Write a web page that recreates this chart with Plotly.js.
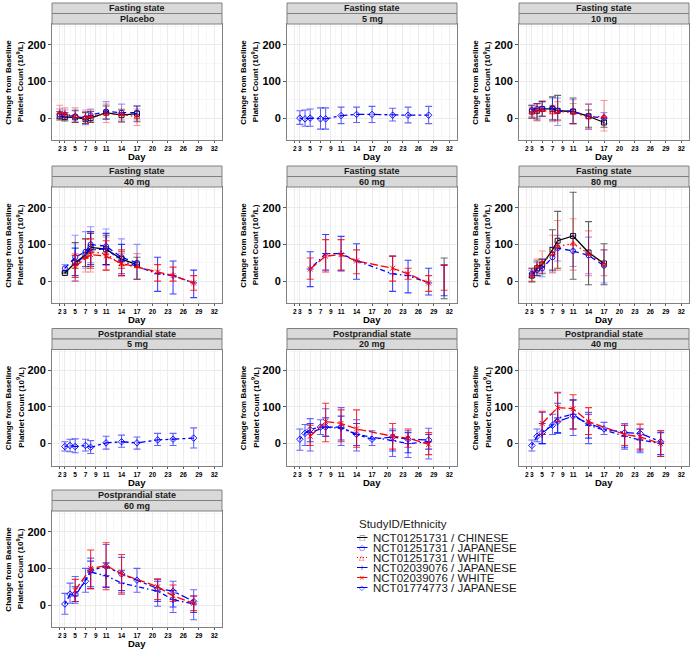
<!DOCTYPE html>
<html><head><meta charset="utf-8">
<script src="https://cdn.plot.ly/plotly-3.0.1.min.js"></script>
<style>html,body{margin:0;padding:0;background:#fff}#chart{width:694px;height:649px}</style>
</head><body><div id="chart"></div><script>
// ---------- DATA: [day, mean, lower, upper] ----------
const dayTicks = [2,3,5,7,9,11,14,17,20,23,26,29,32];
const yTicks = [0,100,200];
const seriesNames = ['NCT01251731 / CHINESE','NCT01251731 / JAPANESE','NCT01251731 / WHITE',
                     'NCT02039076 / JAPANESE','NCT02039076 / WHITE','NCT01774773 / JAPANESE'];

// Fasting state – Placebo
const F_PBO_CHN = [[2,5,-5,18],[3,3,-8,15],[5,2,-12,20],[7,-3,-15,15],[8,0,-12,18],[11,15,-3,33],[14,8,-10,22],[17,12,-10,33]];
const F_PBO_JPN = [[2,10,0,25],[3,8,-5,22],[5,5,-10,22],[7,0,-18,18],[8,8,-10,25],[11,18,-2,45],[14,15,-5,38],[17,15,-5,33]];
const F_PBO_WHT = [[2,15,0,35],[3,12,-2,28],[5,5,-12,28],[7,2,-15,22],[8,5,-12,22],[11,12,-12,38],[14,10,-12,25],[17,3,-20,25]];
// Fasting state – 5 mg
const F_5_J3 = [[3,0,-17,20],[4,-2,-22,22],[5,0,-22,25],[7,-2,-30,28],[8,-2,-30,28],[11,7,-15,30],[14,10,-12,30],[17,10,-12,32],[21,8,-8,27],[24,8,-13,30],[28,8,-15,32]];
// Fasting state – 10 mg
const F_10_CHN = [[3,18,0,35],[4,20,-5,40],[5,25,5,45],[7,25,-5,58],[8,20,-5,62],[11,18,-15,55],[14,5,-25,22],[17,-12,-25,0]];
const F_10_JPN = [[3,22,5,35],[4,25,0,40],[5,25,5,45],[7,28,-5,55],[8,20,-20,55],[11,18,-15,50],[14,5,-30,38],[17,0,-15,15]];
const F_10_WHT = [[3,15,0,30],[4,20,-8,38],[5,22,5,48],[7,15,-10,35],[8,18,-8,45],[11,15,-15,40],[14,3,-30,38],[17,5,-35,48]];
// Fasting state – 40 mg
const F_40_CHN = [[3,22,20,25],[5,50,35,105],[7,72,40,115],[8,92,40,130],[11,87,45,125],[14,60,35,80],[17,45,5,65]];
const F_40_JPN = [[3,35,25,45],[5,65,0,125],[7,80,35,135],[8,100,50,148],[11,95,45,142],[14,65,15,115],[17,50,5,100]];
const F_40_WHT = [[5,45,0,75],[7,65,25,115],[8,80,25,130],[11,75,30,120],[14,45,15,75],[17,40,5,75]];
const F_40_J2 = [[5,45,15,90],[8,85,45,135],[11,88,45,130],[14,55,20,100],[21,20,-28,65],[24,15,-35,55],[28,-5,-45,30]];
const F_40_W2 = [[5,40,10,70],[8,72,35,115],[11,68,30,110],[14,48,15,85],[21,25,0,45],[24,15,0,38],[28,-5,-25,15]];
// Fasting state – 60 mg
const F_60_J2 = [[5,33,-15,80],[8,75,30,127],[11,75,28,122],[14,55,5,102],[21,20,-28,68],[24,15,-32,57],[28,-5,-38,35]];
const F_60_W2 = [[5,33,5,63],[8,68,25,113],[11,72,30,113],[14,55,20,85],[21,35,0,68],[24,20,5,35],[28,-5,-28,15]];
const F_60_D31_CHN = [[31,8,-48,63]];
const F_60_D31_J2 = [[31,0,-40,43]];
const F_60_D31_W2 = [[31,10,-25,45]];
// Fasting state – 80 mg
const F_80_CHN = [[3,15,-2,35],[4,35,15,55],[5,45,20,60],[7,85,30,140],[8,110,35,190],[11,123,5,242],[14,78,-10,162],[17,48,-10,102]];
const F_80_JPN = [[3,20,10,30],[4,30,15,50],[5,35,12,60],[7,65,25,92],[8,90,55,125],[11,82,40,125],[14,70,20,120],[17,42,-5,85]];
const F_80_WHT = [[3,15,0,35],[4,40,20,60],[5,50,25,82],[7,75,22,125],[8,95,30,165],[11,102,30,170],[14,75,15,137],[17,45,15,85]];
// Postprandial state – 5 mg
const P_5_J3 = [[3,-8,-20,5],[4,-5,-22,12],[5,-8,-25,13],[7,-5,-20,12],[8,-10,-27,8],[11,2,-15,20],[14,5,-10,23],[17,2,-15,18],[21,10,-5,28],[24,12,-5,28],[28,15,-12,43]];
// Postprandial state – 20 mg
const P_20_J3 = [[3,12,-18,40],[4,28,-5,52],[5,38,-20,68],[7,45,25,65],[8,45,20,95],[11,45,-5,98],[14,25,-20,65],[17,12,-5,35],[21,18,-35,40],[24,12,-38,35],[28,10,-42,42]];
const P_20_J2 = [[5,30,5,55],[8,45,20,70],[11,42,10,75],[14,25,-5,55],[21,8,-20,35],[24,0,-25,30],[28,5,-15,25]];
const P_20_W2 = [[5,20,-5,50],[8,60,5,110],[11,55,5,92],[14,40,-10,92],[21,20,-15,55],[24,15,-10,40],[28,-2,-30,30]];
// Postprandial state – 40 mg
const P_40_J3 = [[3,-5,-20,10],[4,20,5,40],[5,30,0,85],[7,50,25,80],[8,60,28,140],[11,75,22,120],[14,55,0,85],[17,40,25,58],[21,30,-15,55],[24,28,-25,40],[28,5,-35,35]];
const P_40_J2 = [[5,25,0,55],[8,70,30,110],[11,80,40,118],[14,50,15,80],[21,20,-10,50],[24,10,-20,40],[28,0,-30,30]];
const P_40_W2 = [[5,55,25,88],[8,98,60,138],[11,95,40,133],[14,60,25,98],[21,25,-5,50],[24,18,-15,53],[28,0,-35,35]];
// Postprandial state – 60 mg
const P_60_J3 = [[3,3,-25,32],[4,30,5,60],[5,30,5,78],[7,65,35,100],[8,95,45,128],[11,105,50,165],[14,85,35,130],[17,68,35,100],[21,45,-3,72],[24,38,-20,65],[28,10,-40,42]];
const P_60_J2 = [[5,25,10,50],[8,90,50,120],[11,80,48,115],[14,60,40,95],[21,38,10,65],[24,15,-5,40],[28,3,-20,25]];
const P_60_W2 = [[5,40,10,70],[8,100,45,150],[11,108,42,170],[14,85,30,138],[21,50,15,70],[24,25,10,55],[28,5,-15,25]];

// ---------- panels (series index -> data) ----------
const panels = [
  {state:'Fasting state', dose:'Placebo', row:0, col:0, lines:[[0,F_PBO_CHN],[1,F_PBO_JPN],[2,F_PBO_WHT]]},
  {state:'Fasting state', dose:'5 mg', row:0, col:1, lines:[[5,F_5_J3]]},
  {state:'Fasting state', dose:'10 mg', row:0, col:2, lines:[[0,F_10_CHN],[1,F_10_JPN],[2,F_10_WHT]]},
  {state:'Fasting state', dose:'40 mg', row:1, col:0, lines:[[0,F_40_CHN],[1,F_40_JPN],[2,F_40_WHT],[3,F_40_J2],[4,F_40_W2]]},
  {state:'Fasting state', dose:'60 mg', row:1, col:1, lines:[[3,F_60_J2],[4,F_60_W2]], bars:[[0,F_60_D31_CHN],[3,F_60_D31_J2],[4,F_60_D31_W2]]},
  {state:'Fasting state', dose:'80 mg', row:1, col:2, lines:[[0,F_80_CHN],[1,F_80_JPN],[2,F_80_WHT]]},
  {state:'Postprandial state', dose:'5 mg', row:2, col:0, lines:[[5,P_5_J3]]},
  {state:'Postprandial state', dose:'20 mg', row:2, col:1, lines:[[5,P_20_J3],[3,P_20_J2],[4,P_20_W2]]},
  {state:'Postprandial state', dose:'40 mg', row:2, col:2, lines:[[5,P_40_J3],[3,P_40_J2],[4,P_40_W2]]},
  {state:'Postprandial state', dose:'60 mg', row:3, col:0, lines:[[5,P_60_J3],[3,P_60_J2],[4,P_60_W2]]}
];

// ---------- styles ----------
const FONT = 'Liberation Sans, Arial, Helvetica, sans-serif';
const sColor = ['#000000','#0000FF','#FF0000','#0000FF','#FF0000','#0000FF'];
const sErr = ['rgba(0,0,0,0.6)','rgba(0,0,255,0.4)','rgba(255,0,0,0.4)','rgba(0,0,255,0.75)','rgba(255,0,0,0.8)','rgba(0,0,255,0.6)'];
const sSym = ['square-open','circle-open','triangle-up-open','cross-thin-open','x-thin-open','diamond-open'];
const sDash = ['solid','5px,4px','1.5px,3px','1.5px,3px,5px,3px','8px,3px','3px,3px,8px,3px'];
const sGlyph = ['□','○','△','+','×','◇'];

const W = 694, H = 649;
const colLeft = [52, 287, 519], plotW = 170;
const stripTop = [3, 166, 328.5, 490];
const stripH = 10.5, plotH = 116.3;

const traces = [];
const layout = {width:W, height:H, margin:{l:0,r:0,t:0,b:0}, paper_bgcolor:'#fff', plot_bgcolor:'#fff',
  showlegend:false, shapes:[], annotations:[], font:{family:FONT, color:'#000'}};

const minorX = [];
for (let i=0;i<dayTicks.length-1;i++) minorX.push((dayTicks[i]+dayTicks[i+1])/2);
const minorY = [-50,50,150,250];

function mkTrace(s, d, ax, withLine){
  const x = d.map(r=>r[0]), y = d.map(r=>r[1]);
  return {
    type:'scatter', mode: withLine ? 'lines+markers' : 'markers', x, y,
    xaxis:'x'+ax, yaxis:'y'+ax, name:seriesNames[s], hoverinfo:'skip',
    line:{color:sColor[s], width:1.3, dash:sDash[s]},
    marker: withLine ? {symbol:sSym[s], size:5, color:sColor[s], line:{width:0.9, color:sColor[s]}}
                     : {size:1, color:'rgba(0,0,0,0)'},
    error_y:{type:'data', symmetric:false, array:d.map(r=>r[3]-r[1]), arrayminus:d.map(r=>r[1]-r[2]),
             color:sErr[s], thickness:1.1, width:3.5}
  };
}

panels.forEach((p,k)=>{
  const ax = k===0 ? '' : String(k+1);
  const L = colLeft[p.col], S = stripTop[p.row];
  const top = S + 2*stripH, bot = top + plotH;
  const xd = [L/W, (L+plotW)/W], yd = [1-bot/H, 1-top/H];
  layout['xaxis'+ax] = {domain:xd, anchor:'y'+ax, range:[0.5,33.5], tickmode:'array', tickvals:dayTicks,
    ticktext:dayTicks.map(String), tickangle:0, tickfont:{family:FONT, size:6.5, color:'#000', weight:'bold'},
    showgrid:true, gridcolor:'#EBEBEB', gridwidth:1,
    minor:{tickmode:'array', tickvals:minorX, showgrid:true, gridcolor:'#F4F4F4', gridwidth:0.7, ticks:''},
    zeroline:false, showline:true, mirror:true, linecolor:'#808080', linewidth:1,
    ticks:'outside', ticklen:2, tickcolor:'#333', tickwidth:0.8, fixedrange:true};
  layout['yaxis'+ax] = {domain:yd, anchor:'x'+ax, range:[-60.5,256.5], tickmode:'array', tickvals:yTicks,
    ticktext:yTicks.map(String), tickfont:{family:FONT, size:11, color:'#000', weight:'bold'},
    showgrid:true, gridcolor:'#EBEBEB', gridwidth:1,
    minor:{tickmode:'array', tickvals:minorY, showgrid:true, gridcolor:'#F4F4F4', gridwidth:0.7, ticks:''},
    zeroline:false, showline:true, mirror:true, linecolor:'#808080', linewidth:1,
    ticks:'outside', ticklen:3, tickcolor:'#333', tickwidth:0.8, fixedrange:true};
  // strips
  [[S, p.state],[S+stripH, p.dose]].forEach(([y0,txt])=>{
    layout.shapes.push({type:'rect', xref:'paper', yref:'paper', x0:L/W, x1:(L+plotW)/W,
      y0:1-y0/H, y1:1-(y0+stripH)/H, fillcolor:'#D9D9D9', line:{color:'#808080', width:1}, layer:'above'});
    layout.annotations.push({xref:'paper', yref:'paper', x:(L+plotW/2)/W, y:1-(y0+stripH/2)/H,
      text:'<b>'+txt+'</b>', showarrow:false, xanchor:'center', yanchor:'middle',
      font:{family:FONT, size:9, color:'#1A1A1A'}});
  });
  // axis titles
  layout.annotations.push({xref:'paper', yref:'paper', x:(L+plotW/2)/W, y:1-(bot+16.5)/H,
    text:'<b>Day</b>', showarrow:false, xanchor:'center', yanchor:'middle', font:{family:FONT, size:9.5, color:'#000'}});
  layout.annotations.push({xref:'paper', yref:'paper', x:(L-43.5)/W, y:1-((top+bot)/2)/H, textangle:-90,
    text:'<b>Change from Baseline</b>', showarrow:false, xanchor:'center', yanchor:'middle', font:{family:FONT, size:8, color:'#000'}});
  layout.annotations.push({xref:'paper', yref:'paper', x:(L-32)/W, y:1-((top+bot)/2)/H, textangle:-90,
    text:'<b>Platelet Count (10<sup>9</sup>/L)</b>', showarrow:false, xanchor:'center', yanchor:'middle', font:{family:FONT, size:8, color:'#000'}});
  p.lines.forEach(([s,d])=>traces.push(mkTrace(s,d,ax,true)));
  (p.bars||[]).forEach(([s,d])=>traces.push(mkTrace(s,d,ax,false)));
});

// ---------- manual legend ----------
const lgX = 357, lgTitleY = 523.5, lgY0 = 537.5, lgStep = 10;
layout.annotations.push({xref:'paper', yref:'paper', x:lgX/W, y:1-lgTitleY/H, text:'StudyID/Ethnicity',
  showarrow:false, xanchor:'left', yanchor:'middle', font:{family:FONT, size:11.5, color:'#1A1A1A'}});
seriesNames.forEach((n,i)=>{
  const yy = lgY0 + i*lgStep;
  layout.shapes.push({type:'line', xref:'paper', yref:'paper', x0:lgX/W, x1:(lgX+10.5)/W, y0:1-yy/H, y1:1-yy/H,
    line:{color:sColor[i], width:1, dash: i===2 ? '1px,2px' : 'solid'}});
  layout.annotations.push({xref:'paper', yref:'paper', x:(lgX+5.25)/W, y:1-(yy+0.3)/H, text:sGlyph[i],
    showarrow:false, xanchor:'center', yanchor:'middle', font:{family:'DejaVu Sans', size:7, color: i===0?'#555':sColor[i]}});
  layout.annotations.push({xref:'paper', yref:'paper', x:(lgX+13.5)/W, y:1-yy/H, text:n,
    showarrow:false, xanchor:'left', yanchor:'middle', font:{family:FONT, size:11.5, color:'#1A1A1A'}});
});

Plotly.newPlot('chart', traces, layout, {staticPlot:true, displayModeBar:false});
</script></body></html>
